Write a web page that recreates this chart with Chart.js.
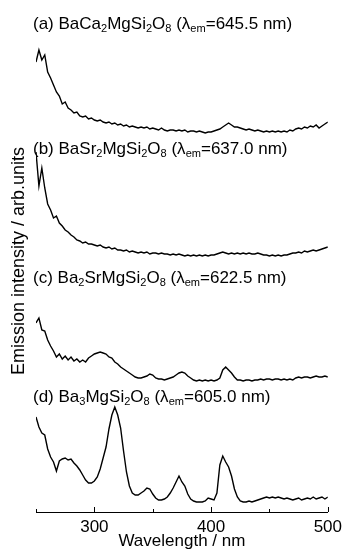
<!DOCTYPE html>
<html><head><meta charset="utf-8">
<script src="https://cdn.jsdelivr.net/npm/chart.js@4.4.1/dist/chart.umd.min.js"></script>
<style>
html,body{margin:0;padding:0;background:#fff;overflow:hidden;}
#wrap{position:relative;width:347px;height:557px;}
canvas{display:block;}
.lbl{position:absolute;font-family:'Liberation Sans',Arial,sans-serif;font-size:17px;line-height:20px;color:#000;white-space:nowrap;}
.lbl sub{font-size:0.65em;vertical-align:-0.3em;line-height:0;}
</style></head><body>
<div id="wrap"><canvas id="c" width="347" height="557" style="width:347px;height:557px"></canvas></div>
<script>
// ---- data ----
const wavelengths = [
250,252.5,255,257.5,260,262.5,265,267.5,270,272.5,
275,277.5,280,282.5,285,287.5,290,292.5,295,297.5,
300,302.5,305,307.5,310,312.5,315,317.5,320,322.5,
325,327.5,330,332.5,335,337.5,340,342.5,345,347.5,
350,352.5,355,357.5,360,362.5,365,367.5,370,372.5,
375,377.5,380,382.5,385,387.5,390,392.5,395,397.5,
400,402.5,405,407.5,410,412.5,415,417.5,420,422.5,
425,427.5,430,432.5,435,437.5,440,442.5,445,447.5,
450,452.5,455,457.5,460,462.5,465,467.5,470,472.5,
475,477.5,480,482.5,485,487.5,490,492.5,495,497.5,
500];
// (a) BaCa2MgSi2O8
const seriesA = [
71,83,73,78,61,55,48,41,37,29,
31,25,23,20,21,17,16,17,14,15,
13,12,13,11,10,11,9,10,8,9,
7,8,6,7,6,5,6,5,6,4,
5,4,3,5,3,2,3,3,2,3,
2,3,1,2,2,1,2,1,0,1,
1,2,3,4,6,8,10,8,6,6,
5,4,3,4,3,2,3,2,1,2,
1,2,1,2,1,2,1,3,2,4,
5,4,6,5,7,6,8,5,7,9,
11];
// (b) BaSr2MgSi2O8
const seriesB = [
104,70,88,68,52,46,38,40,33,30,
26,24,21,19,16,15,13,14,12,12,
11,10,11,9,8,9,7,8,6,6,
5,6,4,5,4,3,4,3,4,2,
3,3,2,3,2,2,1,2,1,2,
1,0,1,0,1,0,1,0,1,0,
1,1,2,3,4,3,2,3,2,3,
2,3,2,3,2,2,3,2,1,1,
0,1,0,1,0,1,1,2,3,3,
4,3,5,4,5,6,5,6,7,8,
9];
// (c) Ba2SrMgSi2O8
const seriesC = [
58,63,51,50,41,35,30,24,27,22,
25,21,24,20,22,19,21,19,23,25,
27,28,29,28,27,24,23,19,17,14,
12,10,8,6,4,3,3,4,5,7,
6,3,2,2,1,2,3,4,6,8,
9,8,5,3,1,0,1,0,1,0,
1,0,1,3,11,14,11,8,4,1,
1,0,1,1,0,1,1,2,1,2,
2,1,2,2,1,2,1,2,1,3,
4,3,4,4,3,4,5,4,4,5,
4];
// (d) Ba3MgSi2O8
const seriesD = [
86,76,70,68,54,46,41,32,42,44,
45,43,44,40,37,33,28,23,20,20,
22,26,34,45,56,74,88,96,88,75,
52,31,17,10,8,8,10,12,15,14,
9,5,3,3,4,6,10,15,21,27,
21,17,9,4,2,1,1,1,2,5,
4,3,10,38,47,41,36,27,14,6,
2,1,1,2,1,2,3,4,5,6,
5,6,5,6,5,4,5,4,3,4,
5,3,4,5,4,6,4,5,6,4,
6];
// vertical offsets that stack the four spectra
const offsets = [379, 256, 131, 9];
const panelLabels = [
 '(a) BaCa<sub>2</sub>MgSi<sub>2</sub>O<sub>8</sub> (λ<sub>em</sub>=645.5 nm)',
 '(b) BaSr<sub>2</sub>MgSi<sub>2</sub>O<sub>8</sub> (λ<sub>em</sub>=637.0 nm)',
 '(c) Ba<sub>2</sub>SrMgSi<sub>2</sub>O<sub>8</sub> (λ<sub>em</sub>=622.5 nm)',
 '(d) Ba<sub>3</sub>MgSi<sub>2</sub>O<sub>8</sub> (λ<sub>em</sub>=605.0 nm)'
];
const majorTicks = [300, 400, 500];
const minorTicks = [250, 350, 450];
const xTitle = 'Wavelength / nm';
const yTitle = 'Emission intensity / arb.units';

// ---- layout ----
const labelLeft = 33;
const labelTops = [14, 139, 268, 387];
const FONT = "'Liberation Sans', Arial, sans-serif";

const wrap = document.getElementById('wrap');
panelLabels.forEach((html, k) => {
  const d = document.createElement('div');
  d.className = 'lbl';
  d.style.left = labelLeft + 'px';
  d.style.top = labelTops[k] + 'px';
  d.innerHTML = html;
  wrap.appendChild(d);
});

const datasets = [seriesA, seriesB, seriesC, seriesD].map((s, k) => ({
  data: s.map((v, i) => ({x: wavelengths[i], y: v + offsets[k]})),
  borderColor: '#000', borderWidth: 1.4, pointRadius: 0, tension: 0, fill: false
}));

const tickPlugin = {
  id: 'inTicks',
  afterDraw(chart) {
    const {ctx, scales: {x}} = chart;
    const y0 = x.top;
    ctx.save();
    ctx.strokeStyle = '#000';
    ctx.lineWidth = 1;
    const draw = (v, len) => {
      const px = Math.round(x.getPixelForValue(v)) + 0.5;
      ctx.beginPath(); ctx.moveTo(px, y0); ctx.lineTo(px, y0 - len); ctx.stroke();
    };
    majorTicks.forEach(v => draw(v, 5));
    minorTicks.forEach(v => draw(v, 3));
    ctx.restore();
  }
};

Chart.defaults.font.family = FONT;
Chart.defaults.color = '#000';
new Chart(document.getElementById('c'), {
  type: 'line',
  data: {datasets},
  options: {
    responsive: false, animation: false, devicePixelRatio: 1,
    layout: {padding: {top: 10, right: 15, left: 0, bottom: 0}},
    plugins: {legend: {display: false}, tooltip: {enabled: false}},
    scales: {
      x: {
        type: 'linear', min: 250, max: 500,
        afterFit(s) { s.height = 45; },
        ticks: {stepSize: 50, autoSkip: false, maxRotation: 0, padding: 5, color: '#000',
          font: {size: 17},
          callback: v => majorTicks.includes(v) ? String(v) : ''},
        grid: {display: true, drawOnChartArea: false, drawTicks: false},
        border: {display: true, color: '#000', width: 1},
        title: {display: true, text: xTitle, color: '#000', font: {size: 17}, padding: {top: 0, bottom: 5}}
      },
      y: {
        min: 0, max: 502,
        afterFit(s) { s.width = 36; },
        ticks: {display: false},
        grid: {display: false},
        border: {display: false},
        title: {display: true, text: yTitle, color: '#000', font: {size: 18}, padding: {top: 8, bottom: 0}}
      }
    }
  },
  plugins: [tickPlugin]
});
</script>
</body></html>
